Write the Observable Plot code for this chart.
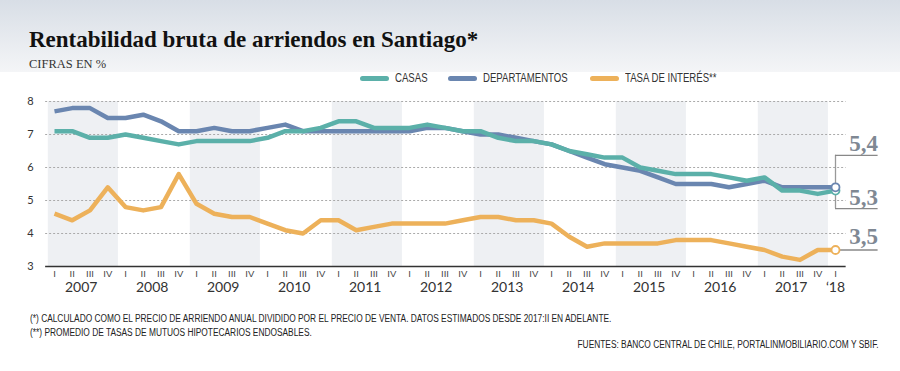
<!DOCTYPE html>
<html>
<head>
<meta charset="utf-8">
<script src="https://cdn.jsdelivr.net/npm/d3@7"></script>
<script src="https://cdn.jsdelivr.net/npm/@observablehq/plot@0.6"></script>
<style>
  html, body { margin: 0; padding: 0; background: #fff; }
  #page { position: relative; width: 900px; height: 371px; overflow: hidden; background: #fff; }
  #header { position: absolute; left: 0; top: 0; width: 900px; height: 72px;
    background: linear-gradient(#d8dee6, #f4f5f7); }
  #title { position: absolute; left: 29px; top: 28px; font: bold 23px "Liberation Serif", serif; line-height: 1; color: #111; white-space: nowrap; }
  #subtitle { position: absolute; left: 29px; top: 58px; font: 12.5px "Liberation Serif", serif; line-height: 1; color: #333; white-space: nowrap; }
  #legend { position: absolute; top: 72px; left: 0; width: 900px; height: 12px; font: 12px "Liberation Sans", sans-serif; color: #333; }
  .lg { position: absolute; top: 0; display: flex; align-items: center; white-space: nowrap; line-height: 12px; }
  .lg .t { display: inline-block; transform: scaleX(0.8); transform-origin: left center; }
  .sw { display: inline-block; width: 29px; height: 5px; border-radius: 3px; margin-right: 6px; }
  #chart { position: absolute; left: 0; top: 85px; }
  .fn { position: absolute; font: 10px "Liberation Sans", sans-serif; color: #222; white-space: nowrap; line-height: 1; transform: scaleX(0.835); }
  #fn1, #fn2 { transform-origin: left center; }
  #fn3 { transform-origin: right center; }
</style>
</head>
<body>
<div id="page">
  <div id="header"></div>
  <div id="title"></div>
  <div id="subtitle"></div>
  <div id="legend"></div>
  <div id="chart"></div>
  <div class="fn" id="fn1" style="left:30px; top:314px;"></div>
  <div class="fn" id="fn2" style="left:30px; top:328px;"></div>
  <div class="fn" id="fn3" style="right:21px; top:340px;"></div>
</div>
<script>
// ---- data ----
const titleText = "Rentabilidad bruta de arriendos en Santiago*";
const subtitleText = "CIFRAS EN %";
const seriesNames = ["CASAS", "DEPARTAMENTOS", "TASA DE INTERÉS**"];
const quarterLabels = ["I", "II", "III", "IV"];
const yearLabels = ["2007", "2008", "2009", "2010", "2011", "2012", "2013", "2014", "2015", "2016", "2017", "‘18"];
const shadedYears = ["2007", "2009", "2011", "2013", "2015", "2017"];
const yTicks = [3, 4, 5, 6, 7, 8];
const casas = [7.1, 7.1, 6.9, 6.9, 7.0, 6.9, 6.8, 6.7, 6.8, 6.8, 6.8, 6.8, 6.9, 7.1, 7.1, 7.2, 7.4, 7.4, 7.2, 7.2, 7.2, 7.3, 7.2, 7.1, 7.1, 6.9, 6.8, 6.8, 6.7, 6.5, 6.4, 6.3, 6.3, 6.0, 5.9, 5.8, 5.8, 5.8, 5.7, 5.6, 5.7, 5.3, 5.3, 5.2, 5.3];
const departamentos = [7.7, 7.8, 7.8, 7.5, 7.5, 7.6, 7.4, 7.1, 7.1, 7.2, 7.1, 7.1, 7.2, 7.3, 7.1, 7.1, 7.1, 7.1, 7.1, 7.1, 7.1, 7.2, 7.2, 7.1, 7.0, 7.0, 6.9, 6.8, 6.7, 6.5, 6.3, 6.1, 6.0, 5.9, 5.7, 5.5, 5.5, 5.5, 5.4, 5.5, 5.6, 5.4, 5.4, 5.4, 5.4];
const tasa = [4.6, 4.4, 4.7, 5.4, 4.8, 4.7, 4.8, 5.8, 4.9, 4.6, 4.5, 4.5, 4.3, 4.1, 4.0, 4.4, 4.4, 4.1, 4.2, 4.3, 4.3, 4.3, 4.3, 4.4, 4.5, 4.5, 4.4, 4.4, 4.3, 3.9, 3.6, 3.7, 3.7, 3.7, 3.7, 3.8, 3.8, 3.8, 3.7, 3.6, 3.5, 3.3, 3.2, 3.5, 3.5];
const endLabels = ["5,4", "5,3", "3,5"];
const footnote1 = "(*) CALCULADO COMO EL PRECIO DE ARRIENDO ANUAL DIVIDIDO POR EL PRECIO DE VENTA. DATOS ESTIMADOS DESDE 2017:II EN ADELANTE.";
const footnote2 = "(**) PROMEDIO DE TASAS DE MUTUOS HIPOTECARIOS ENDOSABLES.";
const sources = "FUENTES: BANCO CENTRAL DE CHILE, PORTALINMOBILIARIO.COM Y SBIF.";

// ---- styles ----
const colors = ["#5bb0a9", "#6a86b0", "#edb15a"];
const gray = "#7f8893";

// ---- text ----
document.getElementById("title").textContent = titleText;
document.getElementById("subtitle").textContent = subtitleText;
document.getElementById("fn1").textContent = footnote1;
document.getElementById("fn2").textContent = footnote2;
document.getElementById("fn3").textContent = sources;
const legendX = [360, 448, 590];
const legend = document.getElementById("legend");
seriesNames.forEach((n, k) => {
  const d = document.createElement("div");
  d.className = "lg";
  d.style.left = legendX[k] + "px";
  d.innerHTML = `<span class="sw" style="background:${colors[k]}"></span><span class="t">${n}</span>`;
  legend.appendChild(d);
});

// ---- tables ----
const values = [casas, departamentos, tasa];
const rows = [];
values.forEach((arr, k) => arr.forEach((v, i) => rows.push({i, serie: seriesNames[k], value: v})));
const nQ = casas.length;
const last = rows.filter(d => d.i === nQ - 1);
const qTicks = d3.range(nQ).map(i => ({i, q: quarterLabels[i % 4]}));
const yearPos = yearLabels.map((y, k) => ({y, i: k < yearLabels.length - 1 ? 4 * k + 1.5 : nQ - 1}));
const bands = shadedYears.map(y => ({start: 4 * yearLabels.indexOf(y)}));
const xEnd = nQ - 1;
const lineOrder = [2, 1, 0];

const sans = "Lato, sans-serif";
const narrow = "'Liberation Sans', sans-serif";
const serif = "'Liberation Serif', serif";

const plot = Plot.plot({
  width: 900, height: 225,
  marginLeft: 54, marginRight: 65, marginTop: 16, marginBottom: 44,
  x: {domain: [0, xEnd], axis: null},
  y: {domain: [3, 8], axis: null},
  color: {domain: seriesNames, range: colors},
  style: {background: "transparent", overflow: "visible"},
  marks: [
    Plot.rect(bands, {x1: d => d.start - 0.35, x2: d => d.start + 3.6, y1: 3, y2: 8, fill: "#eef0f3"}),
    Plot.ruleY(yTicks.filter(v => v > 3), {x1: -0.5, x2: xEnd + 0.6, stroke: "#aaa", strokeWidth: 1, strokeDasharray: "2,2"}),
    Plot.ruleY([3], {x1: -0.5, x2: xEnd + 0.6, stroke: "#333", strokeWidth: 1.5}),
    Plot.text(yTicks, {x: -0.5, y: d => d, text: d => String(d), textAnchor: "end", dx: -12, fontSize: 11, fontFamily: sans, fill: "#333"}),
    Plot.text(qTicks, {x: "i", text: "q", frameAnchor: "bottom", dy: 10, fontSize: 9.5, fontFamily: narrow, fill: "#444"}),
    Plot.text(yearPos, {x: "i", text: "y", frameAnchor: "bottom", dy: 25, fontSize: 14, fontFamily: sans, fill: "#333"}),
    ...lineOrder.map(k => Plot.line(rows.filter(d => d.serie === seriesNames[k]), {x: "i", y: "value", stroke: "serie", strokeWidth: 4.5, strokeLinejoin: "round", strokeLinecap: "butt"})),
    // annotation brackets
    Plot.ruleX([xEnd], {y1: departamentos[xEnd], y2: casas[xEnd], insetTop: -32, insetBottom: -18, stroke: "#999", strokeWidth: 1.3}),
    Plot.ruleY([departamentos[xEnd]], {x1: xEnd, x2: xEnd + 2.4, dy: -32, stroke: "#888", strokeWidth: 1.3}),
    Plot.ruleY([casas[xEnd]], {x1: xEnd, x2: xEnd + 2.4, dy: 18, stroke: "#888", strokeWidth: 1.3}),
    Plot.ruleY([tasa[xEnd]], {x1: xEnd, x2: xEnd + 2.4, stroke: "#888", strokeWidth: 1.3}),
    Plot.dot(last, {x: "i", y: "value", r: 4, fill: "white", stroke: "serie", strokeWidth: 1.8}),
    Plot.text([departamentos[xEnd]], {x: xEnd + 2.4, y: d => d, text: () => endLabels[0], textAnchor: "end", lineAnchor: "bottom", dy: -36, fontSize: 23, fontWeight: "bold", fontFamily: serif, fill: gray}),
    Plot.text([casas[xEnd]], {x: xEnd + 2.4, y: d => d, text: () => endLabels[1], textAnchor: "end", lineAnchor: "bottom", dy: 14, fontSize: 23, fontWeight: "bold", fontFamily: serif, fill: gray}),
    Plot.text([tasa[xEnd]], {x: xEnd + 2.4, y: d => d, text: () => endLabels[2], textAnchor: "end", lineAnchor: "bottom", dy: -6, fontSize: 23, fontWeight: "bold", fontFamily: serif, fill: gray})
  ]
});
document.getElementById("chart").appendChild(plot);
</script>
</body>
</html>
